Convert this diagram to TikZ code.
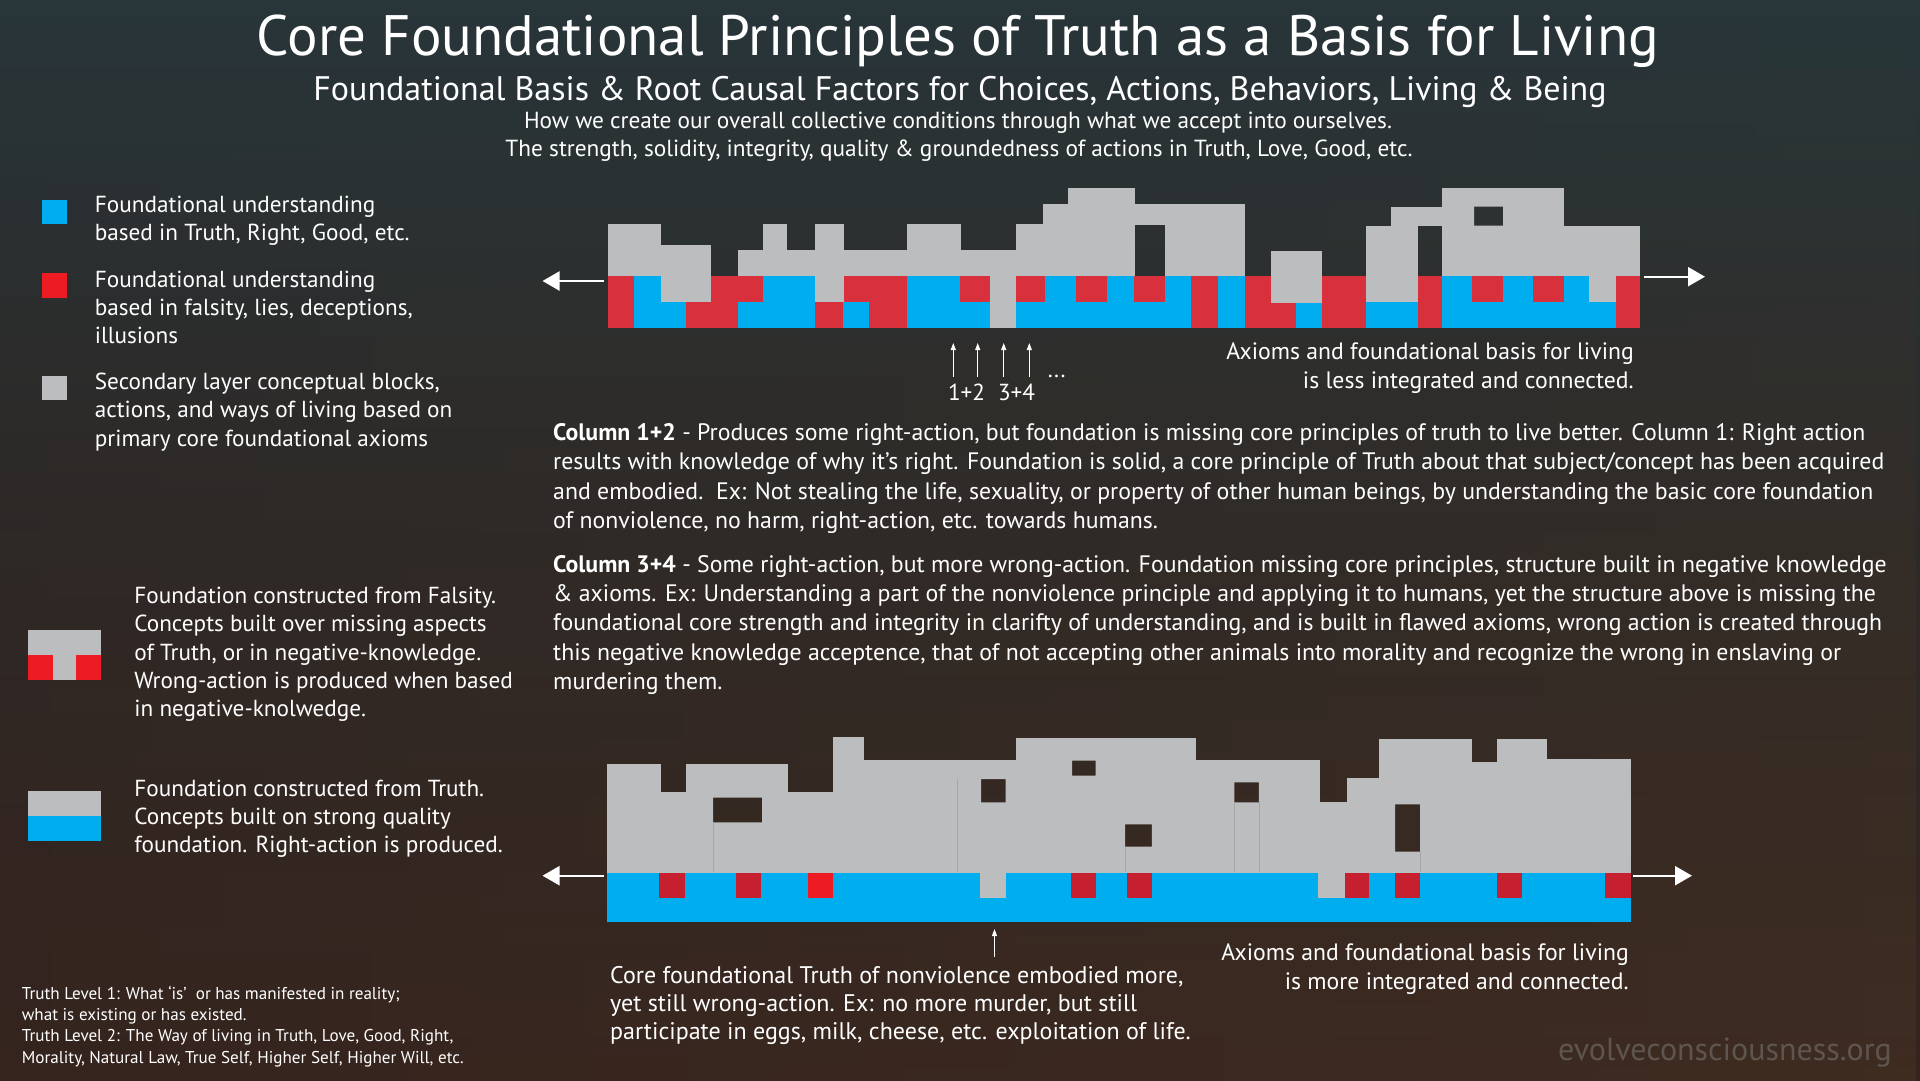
\documentclass[tikz,border=0pt]{standalone}
\usepackage{fontspec}
\setmainfont{PT Sans}
\usetikzlibrary{arrows.meta, fadings}

\definecolor{Truth}{HTML}{00AEEF}
\definecolor{Falsity}{HTML}{D9303E}
\definecolor{FalsityLow}{HTML}{C51F30}
\definecolor{FalsityKey}{HTML}{ED1C24}
\definecolor{Concept}{HTML}{BCBDBF}
\definecolor{Seam}{HTML}{A5A6A8}
\definecolor{BgTop}{HTML}{28363A}
\definecolor{BgMid}{HTML}{2C2A29}
\definecolor{BgLow}{HTML}{35241E}
\definecolor{BgWarm}{HTML}{4A3624}
\definecolor{Mark}{HTML}{5E554E}

\newcommand\TitleSize{\fontsize{57}{62}\selectfont}
\newcommand\SubSize{\fontsize{34}{38}\selectfont}
\newcommand\LeadSize{\fontsize{23.3}{28}\selectfont}
\newcommand\KeySize{\fontsize{23.2}{28.2}\selectfont}
\newcommand\ColSize{\fontsize{23.8}{29.2}\selectfont}
\newcommand\AxSize{\fontsize{23.7}{29.1}\selectfont}
\newcommand\CoreSize{\fontsize{24}{27.9}\selectfont}
\newcommand\NoteSize{\fontsize{17.1}{21.4}\selectfont}

\begin{document}
\begin{tikzpicture}[x=1pt, y=-1pt,
  txt/.style={text=white, inner sep=0pt, align=left, anchor=base west},
  rtxt/.style={text=white, inner sep=0pt, align=right, anchor=base east},
  ctxt/.style={text=white, inner sep=0pt, anchor=base},
  bigarrow/.style={draw=white, line width=2.2pt, -{Triangle[length=17pt,width=19pt]}},
  tick/.style={draw=white, line width=1pt, -{Triangle[length=7pt,width=5pt]}}]

 \useasboundingbox (0,0) rectangle (1920,1080);

 %%%%%%%%%% Background %%%%%%%%%%
 \shade [top color=BgTop, bottom color=BgLow, middle color=BgMid] (0,0) rectangle (1920,1080);
 \shade [left color=BgLow, right color=BgWarm, opacity=0.45, path fading=north] (0,0) rectangle (1920,1080);

 %%%%%%%%%% Titles %%%%%%%%%%
 \node[ctxt, font=\TitleSize] (title) at (958,55) {Core Foundational Principles of Truth as a Basis for Living};
 \node[ctxt, font=\SubSize] (subtitle) at (960,100) {Foundational Basis \& Root Causal Factors for Choices, Actions, Behaviors, Living \& Being};
 \node[ctxt, font=\LeadSize] (lead1) at (958,128.3) {How we create our overall collective conditions through what we accept into ourselves.};
 \node[ctxt, font=\LeadSize] (lead2) at (959,156.7) {The strength, solidity, integrity, quality \& groundedness of actions in Truth, Love, Good, etc.};

 %%%%%%%%%% Legend %%%%%%%%%%
 % text nodes sit on the baseline of their last line
 \fill [color=Truth] (42.3,200) rectangle (67.3,224.3);
 \fill [color=FalsityKey] (42.3,273.3) rectangle (67.3,297.7);
 \fill [color=Concept] (42.3,375.7) rectangle (67.3,400);

 \node[txt, font=\KeySize] (keytruth) at (94.7,240.8) {Foundational understanding\\based in Truth, Right, Good, etc.};
 \node[txt, font=\KeySize] (keyfalse) at (94.7,343.5) {Foundational understanding\\based in falsity, lies, deceptions,\\illusions};
 \node[txt, font=\KeySize] (keyconcept) at (94.7,446) {Secondary layer conceptual blocks,\\actions, and ways of living based on\\primary core foundational axioms};

 \fill [color=Concept] (28,630.3) rectangle (100.7,655.6);
 \fill [color=FalsityKey] (28,655.3) rectangle (53,680);
 \fill [color=Concept] (52.8,655.3) rectangle (76.2,680);
 \fill [color=FalsityKey] (76,655.3) rectangle (100.7,680);
 \node[txt, font=\KeySize] (keyfalsebase) at (134.2,716.5) {Foundation constructed from Falsity.\\Concepts built over missing aspects\\of Truth, or in negative-knowledge.\\Wrong-action is produced when based\\in negative-knolwedge.};

 \fill [color=Concept] (28,791) rectangle (101.4,816.3);
 \fill [color=Truth] (28,816) rectangle (101.4,840.7);
 \node[txt, font=\KeySize] (keytruthbase) at (134.2,852.7) {Foundation constructed from Truth.\\Concepts built on strong quality\\foundation. Right-action is produced.};

 %%%%%%%%%% Upper structure : less integrated %%%%%%%%%%
 \begin{scope}[even odd rule]
  \clip (530,170) rectangle (1720,340) (1474,206.7) rectangle (1503,225.7);
  % foundation cells : x from / x to / upper half / lower half
  \foreach \xa/\xb/\up/\low in {607.5/634.3/Falsity/Falsity, 634.3/661/Truth/Truth, 661/686/Concept/Truth,
     686/711/Concept/Falsity, 711/737.5/Falsity/Falsity, 737.5/762.5/Falsity/Truth, 762.5/814.6/Truth/Truth,
     814.6/843.2/Concept/Falsity, 843.2/869.3/Falsity/Truth, 869.3/907/Falsity/Falsity, 907/960.4/Truth/Truth,
     960.4/990/Falsity/Truth, 990/1015.7/Concept/Concept, 1015.7/1045.4/Falsity/Truth, 1045.4/1076.4/Truth/Truth,
     1076.4/1106.5/Falsity/Truth, 1106.5/1134.3/Truth/Truth, 1134.3/1165/Falsity/Truth, 1165/1191.4/Truth/Truth,
     1191.4/1218/Falsity/Falsity, 1218/1244.5/Truth/Truth, 1244.5/1270.6/Falsity/Falsity, 1270.6/1295.5/Concept/Falsity,
     1295.5/1321.6/Concept/Truth, 1321.6/1365.7/Falsity/Falsity, 1365.7/1418/Concept/Truth, 1418/1442.4/Falsity/Falsity,
     1442.4/1471.8/Truth/Truth, 1471.8/1503.3/Falsity/Truth, 1503.3/1533/Truth/Truth, 1533/1563.7/Falsity/Truth,
     1563.7/1589.4/Truth/Truth, 1589.4/1616/Concept/Truth, 1616/1640/Falsity/Falsity}
  {
   \fill [color=\up] (\xa,275.5) rectangle (\xb+0.4,301.8);
   \fill [color=\low] (\xa,301.5) rectangle (\xb+0.4,328);
  }
  % concept blocks : x from / y top / x to / y bottom
  \foreach \xa/\ya/\xb/\yb in {607.5/224.3/661/275.8, 661/245/711/301.8, 737.5/250/762.5/275.8,
     762.5/224.3/786.4/275.8, 786.4/250/814.6/275.8, 814.6/224.3/843.2/301.8, 843.2/250/907/275.8,
     907/224.3/960.4/275.8, 960.4/250/1015.7/275.8, 990/275.5/1015.7/328, 1015.7/224.3/1042.5/275.8,
     1042.5/204.3/1067.5/275.8, 1067.5/187.7/1134.3/275.8, 1134.3/204.3/1165/225, 1165/204.3/1244.5/275.8,
     1270.6/251/1321.6/303.3, 1366/225.7/1391.4/301.8, 1391.4/206.7/1442.4/225.9, 1391.4/225.7/1418/301.8,
     1442.4/187.7/1563.7/275.8, 1563.7/225.7/1640/275.8, 1589.4/275.5/1616/301.8}
  {
   \fill [color=Concept] (\xa,\ya) rectangle (\xb+0.3,\yb);
  }
 \end{scope}

 \coordinate (upL) at (604,281);
 \coordinate (upLtip) at (542.5,281);
 \coordinate (upR) at (1644,276.7);
 \coordinate (upRtip) at (1705,276.7);
 \draw [bigarrow] (upL) -- (upLtip);
 \draw [bigarrow] (upR) -- (upRtip);

 %%%%%%%%%% Column markers %%%%%%%%%%
 \foreach \i/\x in {1/953.3, 2/977.7, 3/1003.7, 4/1029.3}
 {
   \coordinate (col\i) at (\x,376.7);
   \coordinate (col\i tip) at (\x,343);
   \draw [tick] (col\i) -- (col\i tip);
 }
 \node[ctxt, font=\KeySize] (pair12) at (966.5,400) {1+2};
 \node[ctxt, font=\KeySize] (pair34) at (1016.5,400) {3+4};
 \node[ctxt, font=\KeySize] (more) at (1056.7,377) {...};

 \node[rtxt, font=\AxSize] (lessint) at (1634,388.3) {Axioms and foundational basis for living\\is less integrated and connected.};

 %%%%%%%%%% Column notes %%%%%%%%%%
 \node[txt, font=\ColSize] (note12) at (553,528.3) {\textbf{Column 1+2} - Produces some right-action, but foundation is missing core principles of truth to live better. Column 1: Right action\\results with knowledge of why it’s right. Foundation is solid, a core principle of Truth about that subject/concept has been acquired\\and embodied.\ \ Ex: Not stealing the life, sexuality, or property of other human beings, by understanding the basic core foundation\\of nonviolence, no harm, right-action, etc. towards humans.};
 \node[txt, font=\ColSize] (note34) at (553,689.3) {\textbf{Column 3+4} - Some right-action, but more wrong-action. Foundation missing core principles, structure built in negative knowledge\\\& axioms. Ex: Understanding a part of the nonviolence principle and applying it to humans, yet the structure above is missing the\\foundational core strength and integrity in clarifty of understanding, and is built in flawed axioms, wrong action is created through\\this negative knowledge acceptence, that of not accepting other animals into morality and recognize the wrong in enslaving or\\murdering them.};

 %%%%%%%%%% Lower structure : more integrated %%%%%%%%%%
 \begin{scope}[even odd rule]
  \clip (530,720) rectangle (1720,930)
     (713,797.7) rectangle (762,822.3) (981,779) rectangle (1005.7,802.3)
     (1072,760.7) rectangle (1095.5,775.7) (1125,824.3) rectangle (1151.8,846.7)
     (1234.3,782.3) rectangle (1258.8,802.3) (1395,804.3) rectangle (1420,851.7);
  \fill [color=Truth] (607,872) rectangle (1631,921.7);
  \foreach \xa/\xb in {659.3/684.6, 735.7/761, 1071/1095.5, 1127/1151.8, 1344.5/1369, 1395/1420, 1496.7/1522, 1604.5/1631}
  {
   \fill [color=FalsityLow] (\xa,872.3) rectangle (\xb,897.7);
  }
  \fill [color=FalsityKey] (807.9,872.3) rectangle (832.9,897.7);
  % concept blocks : x from / y top / x to / y bottom
  \foreach \xa/\ya/\xb/\yb in {607/764/661/872.6, 661/791.7/686/872.6, 686/764/788/872.6, 788/791.7/833/872.6,
     833/736.7/864/872.6, 864/760/1015.7/872.6, 980/872.3/1005.7/897.7, 1015.7/737.7/1195.5/872.6,
     1195.5/760/1320/872.6, 1318/872.3/1344.5/897.7, 1320/802.3/1347/872.6, 1347/778.3/1378.8/872.6,
     1378.8/739/1471.8/872.6, 1471.8/761.7/1497/872.6, 1497/739/1547/872.6, 1547/759.3/1631/872.6}
  {
   \fill [color=Concept] (\xa,\ya) rectangle (\xb+0.3,\yb);
  }
  \foreach \x/\ya in {713/822.3, 956.8/779, 1234.3/802.3, 1258.8/802.3, 1125/846.7, 1420/851.7}
  {
   \draw [color=Seam, line width=0.6pt] (\x,\ya) -- (\x,872.3);
  }
 \end{scope}

 \coordinate (lowL) at (604,875.7);
 \coordinate (lowLtip) at (542.5,875.7);
 \coordinate (lowR) at (1633,875.7);
 \coordinate (lowRtip) at (1692,875.7);
 \draw [bigarrow] (lowL) -- (lowLtip);
 \draw [bigarrow] (lowR) -- (lowRtip);

 \coordinate (nonviol) at (994.5,957);
 \coordinate (nonvioltip) at (994.5,929);
 \draw [tick] (nonviol) -- (nonvioltip);

 \node[txt, font=\CoreSize] (corenote) at (610,1039) {Core foundational Truth of nonviolence embodied more,\\yet still wrong-action. Ex: no more murder, but still\\participate in eggs, milk, cheese, etc. exploitation of life.};
 \node[rtxt, font=\AxSize] (moreint) at (1629,989.3) {Axioms and foundational basis for living\\is more integrated and connected.};

 %%%%%%%%%% Footer %%%%%%%%%%
 \node[txt, font=\NoteSize] (levels) at (21.7,1063.3) {Truth Level 1: What ‘is’\ \ or has manifested in reality;\\what is existing or has existed.\\Truth Level 2: The Way of living in Truth, Love, Good, Right,\\Morality, Natural Law, True Self, Higher Self, Higher Will, etc.};
 \node[rtxt, font=\fontsize{32}{35}\selectfont, text=Mark] (site) at (1892,1060) {evolveconsciousness.org};

\end{tikzpicture}
\end{document}
